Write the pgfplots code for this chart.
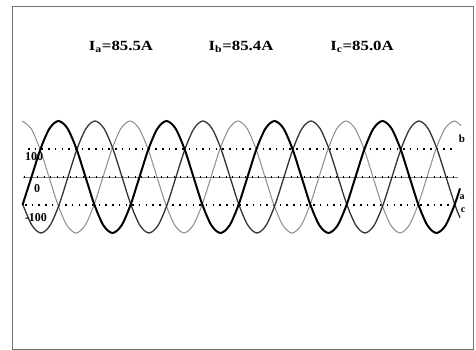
\documentclass[border=0pt]{standalone}
\usepackage{fontspec}
\setmainfont{Liberation Serif}
\usepackage{graphicx}
\usepackage{pgfplots}
\pgfplotsset{compat=1.18}
\begin{document}
\begin{tikzpicture}
\begin{axis}[
  scale only axis, width=476bp, height=350bp,
  xmin=0, xmax=476, ymin=-617.857, ymax=632.143,
  axis lines=none, ticks=none, clip=false,
]
\path[draw=none] (rel axis cs:0,0) rectangle (rel axis cs:1,1);
% frame
\draw[black!55, line width=0.9bp] (axis cs:12,610.7) rectangle (axis cs:473,-614.3);
% zero line
\addplot[black!50, line width=0.8bp] coordinates {(23,0) (458,0)};
\addplot[black, line width=1.1bp, dash pattern=on 1.2bp off 5.3bp] coordinates {(24,0) (458,0)};
% dotted reference lines
\addplot[black, line width=1.4bp, dash pattern=on 1.5bp off 5.2bp] coordinates {(28,100) (452,100)};
\addplot[black, line width=1.4bp, dash pattern=on 1.5bp off 5.2bp] coordinates {(25,-100) (457,-100)};
% phase b (light)
\addplot[black!45, line width=1.0bp, smooth] coordinates {
(22,200) (31,173.2) (40,100) (49,0) (58,-100) (67,-173.2) (76,-200) (85,-173.2) (94,-100) (103,0) (112,100) (121,173.2)
(130,200) (139,173.2) (148,100) (157,0) (166,-100) (175,-173.2) (184,-200) (193,-173.2) (202,-100) (211,0) (220,100) (229,173.2)
(238,200) (247,173.2) (256,100) (265,0) (274,-100) (283,-173.2) (292,-200) (301,-173.2) (310,-100) (319,0) (328,100) (337,173.2)
(346,200) (355,173.2) (364,100) (373,0) (382,-100) (391,-173.2) (400,-200) (409,-173.2) (418,-100) (427,0) (436,100) (445,173.2)
(454,200) (461,183.6)};
% phase c (medium)
\addplot[black!80, line width=1.3bp, smooth] coordinates {
(23,-100) (32,-173.2) (41,-200) (50,-173.2) (59,-100) (68,0) (77,100) (86,173.2)
(95,200) (104,173.2) (113,100) (122,0) (131,-100) (140,-173.2) (149,-200) (158,-173.2) (167,-100) (176,0) (185,100) (194,173.2)
(203,200) (212,173.2) (221,100) (230,0) (239,-100) (248,-173.2) (257,-200) (266,-173.2) (275,-100) (284,0) (293,100) (302,173.2)
(311,200) (320,173.2) (329,100) (338,0) (347,-100) (356,-173.2) (365,-200) (374,-173.2) (383,-100) (392,0) (401,100) (410,173.2)
(419,200) (428,173.2) (437,100) (446,0) (455,-100) (460,-145.6)};
% phase a (dark)
\addplot[black, line width=2.0bp, smooth] coordinates {
(22.5,-100) (31.5,0) (40.5,100) (49.5,173.2)
(58.5,200) (67.5,173.2) (76.5,100) (85.5,0) (94.5,-100) (103.5,-173.2) (112.5,-200) (121.5,-173.2) (130.5,-100) (139.5,0) (148.5,100) (157.5,173.2)
(166.5,200) (175.5,173.2) (184.5,100) (193.5,0) (202.5,-100) (211.5,-173.2) (220.5,-200) (229.5,-173.2) (238.5,-100) (247.5,0) (256.5,100) (265.5,173.2)
(274.5,200) (283.5,173.2) (292.5,100) (301.5,0) (310.5,-100) (319.5,-173.2) (328.5,-200) (337.5,-173.2) (346.5,-100) (355.5,0) (364.5,100) (373.5,173.2)
(382.5,200) (391.5,173.2) (400.5,100) (409.5,0) (418.5,-100) (427.5,-173.2) (436.5,-200) (445.5,-173.2) (454.5,-100) (460,-40.6)};
% titles
\node[font=\fontsize{14bp}{16bp}\selectfont\bfseries] at (axis cs:121,466) {\scalebox{1.2}[1]{I\textsubscript{a}=85.5A}};
\node[font=\fontsize{14bp}{16bp}\selectfont\bfseries] at (axis cs:241,466) {\scalebox{1.2}[1]{I\textsubscript{b}=85.4A}};
\node[font=\fontsize{14bp}{16bp}\selectfont\bfseries] at (axis cs:362,466) {\scalebox{1.2}[1]{I\textsubscript{c}=85.0A}};
% tick labels
\node[font=\fontsize{12bp}{14bp}\selectfont\bfseries] at (axis cs:34,71.4) {100};
\node[font=\fontsize{12bp}{14bp}\selectfont\bfseries] at (axis cs:37,-42.9) {0};
\node[font=\fontsize{12bp}{14bp}\selectfont\bfseries] at (axis cs:36,-146.4) {-100};
% phase labels
\node[font=\fontsize{11bp}{13bp}\selectfont\bfseries, inner sep=0.5bp] at (axis cs:462,135.7) {b};
\node[font=\fontsize{10bp}{12bp}\selectfont\bfseries, inner sep=0.5bp] at (axis cs:462,-71.4) {a};
\node[font=\fontsize{10bp}{12bp}\selectfont\bfseries, inner sep=0.5bp] at (axis cs:463,-117.9) {c};
\end{axis}
\end{tikzpicture}
\end{document}
